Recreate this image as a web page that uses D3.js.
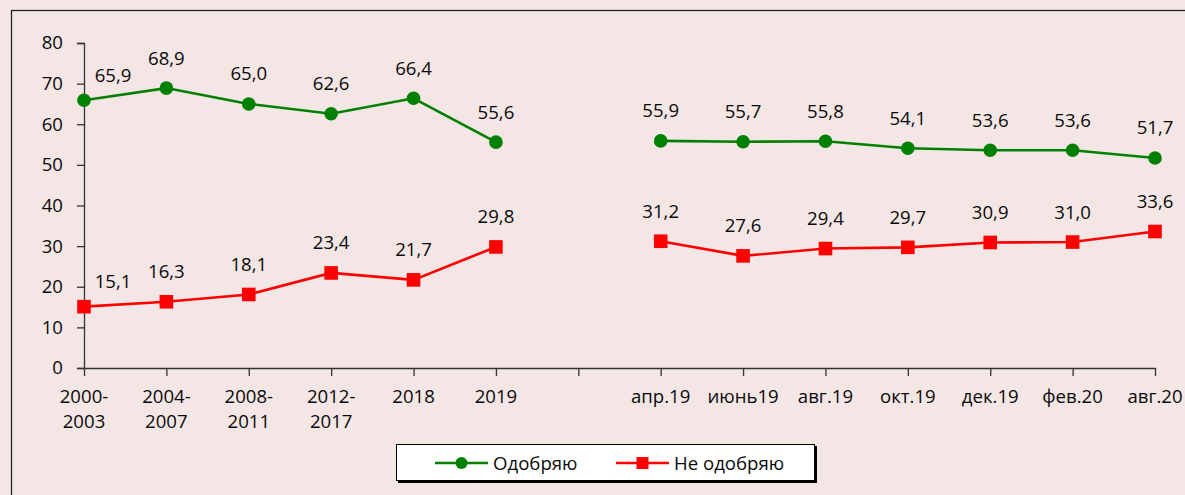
<!DOCTYPE html>
<html>
<head>
<meta charset="utf-8">
<script src="https://cdn.jsdelivr.net/npm/d3@7"></script>
<style>
  html, body { margin: 0; padding: 0; background: #f5e6e6; }
  svg { display: block; }
  text { font-family: "Open Sans", "Noto Sans", sans-serif; fill: #0a0a0a; }
</style>
</head>
<body>
<svg id="chart" width="1185" height="495"></svg>
<script>
// ---- data ----
const categories = [
  ["2000-", "2003"], ["2004-", "2007"], ["2008-", "2011"], ["2012-", "2017"],
  ["2018"], ["2019"], [""],
  ["апр.19"], ["июнь19"], ["авг.19"], ["окт.19"], ["дек.19"], ["фев.20"], ["авг.20"]
];
const approve    = [65.9, 68.9, 65.0, 62.6, 66.4, 55.6, null, 55.9, 55.7, 55.8, 54.1, 53.6, 53.6, 51.7];
const disapprove = [15.1, 16.3, 18.1, 23.4, 21.7, 29.8, null, 31.2, 27.6, 29.4, 29.7, 30.9, 31.0, 33.6];
const yTicks = [0, 10, 20, 30, 40, 50, 60, 70, 80];
const seriesNames = ["Одобряю", "Не одобряю"];

// ---- layout ----
const svg = d3.select("#chart");
const FS = 18.6;
const x = d3.scalePoint().domain(d3.range(categories.length)).range([84, 1155]);
const y = d3.scaleLinear().domain([0, 80]).range([368, 43]);

// outer frame
svg.append("rect").attr("x", 11.5).attr("y", 10.5).attr("width", 1200).attr("height", 520)
  .attr("fill", "none").attr("stroke", "#222").attr("stroke-width", 1.3);

// y axis
const yAxis = svg.append("g").attr("transform", "translate(84,0)")
  .call(d3.axisLeft(y).tickValues(yTicks).tickSize(7).tickPadding(14).tickFormat(d3.format("d")));
yAxis.select(".domain").attr("stroke", "#333").attr("stroke-width", 1.3);
yAxis.selectAll(".tick line").attr("stroke", "#333").attr("stroke-width", 1.3);
yAxis.selectAll("text").attr("font-size", FS).attr("font-family", '"Open Sans", sans-serif').attr("fill", "#0a0a0a");

// x axis
const xAxis = svg.append("g").attr("transform", "translate(0,368)")
  .call(d3.axisBottom(x).tickSize(8).tickSizeOuter(0).tickFormat(""));
xAxis.select(".domain").attr("stroke", "#333").attr("stroke-width", 1.3);
xAxis.selectAll(".tick line").attr("stroke", "#333").attr("stroke-width", 1.3);

const xl = svg.append("g");
categories.forEach((lines, i) => {
  const t = xl.append("text").attr("text-anchor", "middle").attr("font-size", FS);
  lines.forEach((s, k) => {
    t.append("tspan").attr("x", x(i)).attr("y", 396 + k * 25).attr("dy", "0.35em").text(s);
  });
});

// series
const series = [
  { name: seriesNames[0], values: approve, color: "#008000", marker: "circle" },
  { name: seriesNames[1], values: disapprove, color: "#ff0000", marker: "square" }
];
const line = d3.line().defined(d => d.v != null).x(d => x(d.i)).y(d => y(d.v));
const fmt = v => v.toFixed(1).replace(".", ",");

series.forEach(s => {
  const pts = s.values.map((v, i) => ({ i, v }));
  svg.append("path").datum(pts).attr("d", line)
    .attr("fill", "none").attr("stroke", s.color).attr("stroke-width", 2.6);
  const valid = pts.filter(d => d.v != null);
  if (s.marker === "circle") {
    svg.append("g").selectAll("circle").data(valid).join("circle")
      .attr("cx", d => x(d.i)).attr("cy", d => y(d.v)).attr("r", 6.8).attr("fill", s.color);
  } else {
    svg.append("g").selectAll("rect").data(valid).join("rect")
      .attr("x", d => x(d.i) - 6.8).attr("y", d => y(d.v) - 6.8)
      .attr("width", 13.6).attr("height", 13.6).attr("fill", s.color);
  }
  svg.append("g").selectAll("text").data(valid).join("text")
    .attr("text-anchor", "middle").attr("font-size", FS)
    .attr("x", d => x(d.i) + (d.i === 0 ? 29 : 0))
    .attr("y", d => y(d.v) - (d.i === 0 ? 25 : 30))
    .attr("dy", "0.35em")
    .text(d => fmt(d.v));
});

// legend
const lg = svg.append("g");
lg.append("rect").attr("x", 398).attr("y", 446).attr("width", 419).attr("height", 37).attr("fill", "#000");
lg.append("rect").attr("x", 396.5).attr("y", 444.5).attr("width", 418).attr("height", 36)
  .attr("fill", "#fff").attr("stroke", "#000").attr("stroke-width", 1);
const legendX = [435, 616];
series.forEach((s, k) => {
  const lx = legendX[k], ly = 463;
  lg.append("line").attr("x1", lx).attr("x2", lx + 53).attr("y1", ly).attr("y2", ly)
    .attr("stroke", s.color).attr("stroke-width", 2.6);
  if (s.marker === "circle") {
    lg.append("circle").attr("cx", lx + 26.5).attr("cy", ly).attr("r", 6).attr("fill", s.color);
  } else {
    lg.append("rect").attr("x", lx + 26.5 - 6).attr("y", ly - 6).attr("width", 12).attr("height", 12).attr("fill", s.color);
  }
  lg.append("text").attr("x", lx + 58).attr("y", ly).attr("dy", "0.35em")
    .attr("font-size", FS).text(s.name);
});
</script>
</body>
</html>
